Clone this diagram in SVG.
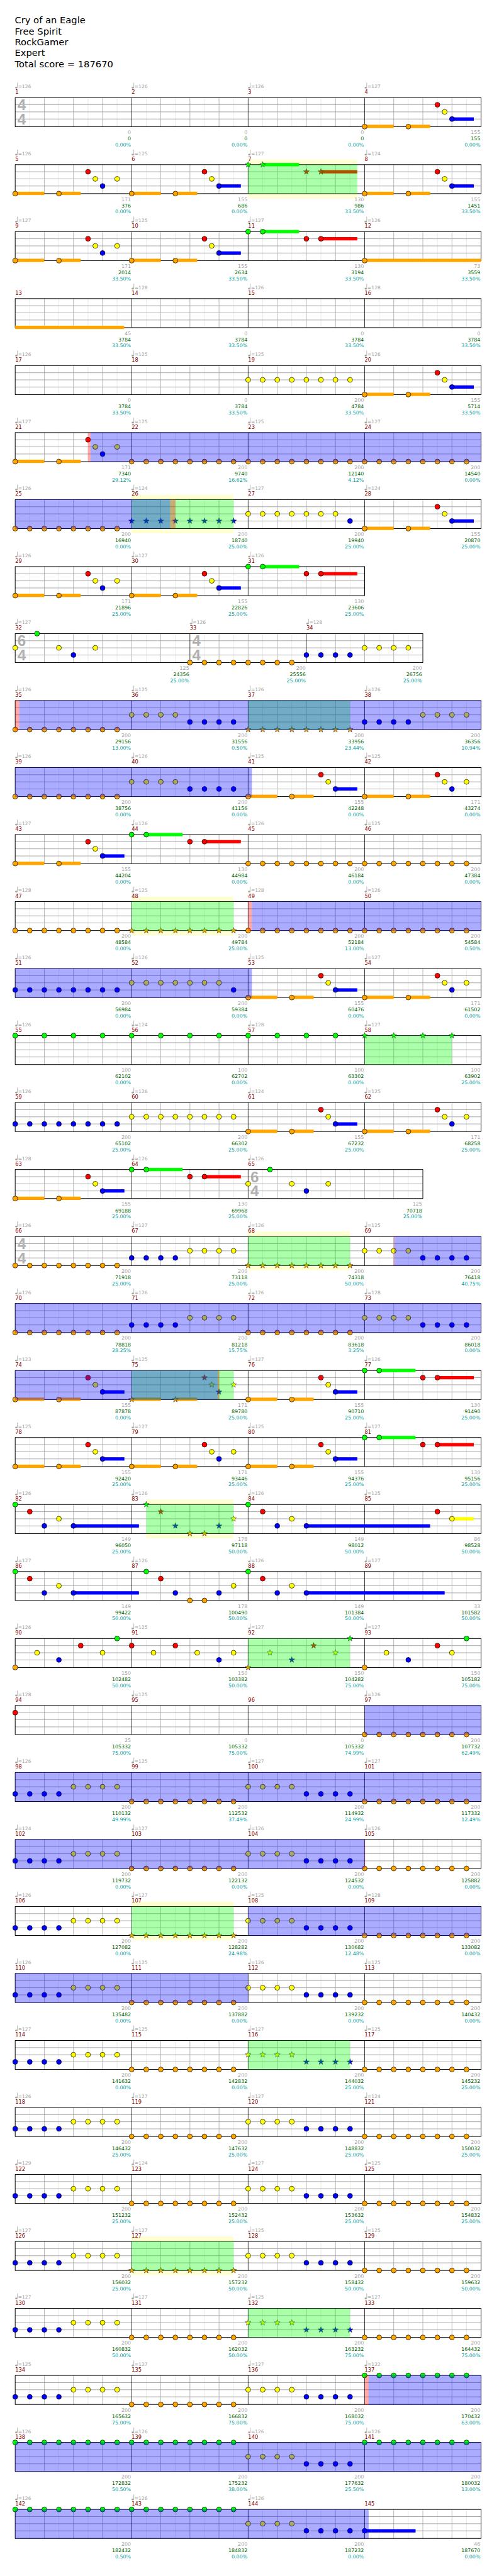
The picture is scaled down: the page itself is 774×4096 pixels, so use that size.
<svg xmlns="http://www.w3.org/2000/svg" width="774" height="4096" viewBox="0 0 774 4096">
<style>
text{font-family:"DejaVu Sans",Verdana,sans-serif;font-size:10.5px}
.ti{font-size:19.5px;fill:#000}
.tp{fill:#a3a3a3;font-size:10px}
.mn{fill:#8b0000;font-size:11px}
.s1{fill:#a3a3a3;text-anchor:end}
.s2{fill:#006400;text-anchor:end}
.s3{fill:#009c9c;text-anchor:end}
.ts{font-family:"Liberation Sans",Arial,sans-serif;font-weight:bold;font-size:32px;fill:#b0b0b0;text-anchor:middle}
circle{stroke:#000;stroke-width:.9}
.o{fill:#ffa500}.r{fill:#f00}.y{fill:#ff0}.b{fill:#00f}.g{fill:#0f0}
.hb{stroke:#e3e3e3;stroke-width:1;fill:none}
.bt{stroke:#a0a0a0;stroke-width:1;fill:none}
.ln{stroke:#a0a0a0;stroke-width:1.2;fill:none}
.ml{stroke:#000;stroke-width:1;fill:none}
.bd{fill:none;stroke:#000;stroke-width:1.3}
.gz{fill:#0f0;fill-opacity:.33}
.bz{fill:#00f;fill-opacity:.33}
.pz{fill:#f00;fill-opacity:.33}
.yz{fill:#ffffd2}
</style>
<defs>
<polygon id="sr" points="0,-6.5 1.53,-2.1 6.18,-2.01 2.47,0.8 3.82,5.26 0,2.6 -3.82,5.26 -2.47,0.8 -6.18,-2.01 -1.53,-2.1" stroke="#000" stroke-width=".6"/>
<g id="tq"><ellipse cx="2.3" cy="-21" rx="2.4" ry="1.9" fill="#a3a3a3"/><path d="M4.5 -21V-31.5" stroke="#a3a3a3" stroke-width="1"/></g>
<g id="st4"><rect x="32" y="0" width="980" height="61" fill="#fff"/><path class="hb" d="M62.63 0V61M123.88 0V61M185.13 0V61M246.38 0V61M307.63 0V61M368.88 0V61M430.13 0V61M491.38 0V61M552.63 0V61M613.88 0V61M675.13 0V61M736.38 0V61M797.63 0V61M858.88 0V61M920.13 0V61M981.38 0V61"/><path class="bt" d="M93.25 0V61M154.5 0V61M215.75 0V61M338.25 0V61M399.5 0V61M460.75 0V61M583.25 0V61M644.5 0V61M705.75 0V61M828.25 0V61M889.5 0V61M950.75 0V61"/><path class="ln" d="M32 15H1012M32 30H1012M32 45H1012"/><path class="ml" d="M277 0V61M522 0V61M767 0V61"/><rect class="bd" x="32" y="0" width="980" height="61"/></g>
<g id="st3"><rect x="32" y="0" width="735" height="61" fill="#fff"/><path class="hb" d="M62.63 0V61M123.88 0V61M185.13 0V61M246.38 0V61M307.63 0V61M368.88 0V61M430.13 0V61M491.38 0V61M552.63 0V61M613.88 0V61M675.13 0V61M736.38 0V61"/><path class="bt" d="M93.25 0V61M154.5 0V61M215.75 0V61M338.25 0V61M399.5 0V61M460.75 0V61M583.25 0V61M644.5 0V61M705.75 0V61"/><path class="ln" d="M32 15H767M32 30H767M32 45H767"/><path class="ml" d="M277 0V61M522 0V61"/><rect class="bd" x="32" y="0" width="735" height="61"/></g>
<g id="st8"><rect x="32" y="0" width="857.5" height="61" fill="#fff"/><path class="hb" d="M62.63 0V61M123.88 0V61M185.13 0V61M246.38 0V61M307.63 0V61M368.88 0V61M430.13 0V61M491.38 0V61M552.63 0V61M613.88 0V61M675.13 0V61M736.38 0V61M797.63 0V61M858.88 0V61"/><path class="bt" d="M93.25 0V61M154.5 0V61M215.75 0V61M277 0V61M338.25 0V61M460.75 0V61M522 0V61M583.25 0V61M705.75 0V61M767 0V61M828.25 0V61"/><path class="ln" d="M32 15H889.5M32 30H889.5M32 45H889.5"/><path class="ml" d="M399.5 0V61M644.5 0V61"/><rect class="bd" x="32" y="0" width="857.5" height="61"/></g>
<g id="st16"><rect x="32" y="0" width="857.5" height="61" fill="#fff"/><path class="hb" d="M62.63 0V61M123.88 0V61M185.13 0V61M246.38 0V61M307.63 0V61M368.88 0V61M430.13 0V61M491.38 0V61M552.63 0V61M613.88 0V61M675.13 0V61M736.38 0V61M797.63 0V61M858.88 0V61"/><path class="bt" d="M93.25 0V61M154.5 0V61M215.75 0V61M338.25 0V61M399.5 0V61M460.75 0V61M583.25 0V61M644.5 0V61M705.75 0V61M767 0V61M828.25 0V61"/><path class="ln" d="M32 15H889.5M32 30H889.5M32 45H889.5"/><path class="ml" d="M277 0V61M522 0V61"/><rect class="bd" x="32" y="0" width="857.5" height="61"/></g>
<g id="P1"><rect class="o" x="0" y="57" width="61.25" height="7"/><rect class="o" x="91.88" y="57" width="45.94" height="7"/><circle class="o" cx="0" cy="61" r="5.2"/><circle class="o" cx="91.88" cy="61" r="5.2"/><circle class="r" cx="153.13" cy="15" r="5.2"/><circle class="y" cx="168.44" cy="30" r="5.2"/><circle class="b" cx="183.75" cy="45" r="5.2"/><circle class="y" cx="214.38" cy="30" r="5.2"/></g>
<g id="P2"><rect class="o" x="0" y="57" width="61.25" height="7"/><rect class="o" x="91.88" y="57" width="45.94" height="7"/><rect class="b" x="183.75" y="41.5" width="45.94" height="7"/><circle class="o" cx="0" cy="61" r="5.2"/><circle class="o" cx="91.88" cy="61" r="5.2"/><circle class="r" cx="153.13" cy="15" r="5.2"/><circle class="y" cx="168.44" cy="30" r="5.2"/><circle class="b" cx="183.75" cy="45" r="5.2"/></g>
<g id="P3"><rect class="g" x="30.63" y="-3.5" width="76.56" height="7"/><rect class="r" x="153.13" y="11.5" width="76.56" height="7"/><circle class="g" cx="0" cy="0" r="5.2"/><circle class="g" cx="30.63" cy="0" r="5.2"/><circle class="r" cx="122.5" cy="15" r="5.2"/><circle class="r" cx="153.13" cy="15" r="5.2"/></g>
<g id="P3S"><rect class="g" x="30.63" y="-3.5" width="76.56" height="7"/><rect class="r" x="153.13" y="11.5" width="76.56" height="7"/><use href="#sr" class="g" x="0" y="0"/><use href="#sr" class="g" x="30.63" y="0"/><use href="#sr" class="r" x="122.5" y="15"/><use href="#sr" class="r" x="153.13" y="15"/></g>
<g id="P1S"><rect class="o" x="0" y="57" width="61.25" height="7"/><rect class="o" x="91.88" y="57" width="45.94" height="7"/><use href="#sr" class="o" x="0" y="61"/><use href="#sr" class="o" x="91.88" y="61"/><use href="#sr" class="r" x="153.13" y="15"/><use href="#sr" class="y" x="168.44" y="30"/><use href="#sr" class="b" x="183.75" y="45"/><use href="#sr" class="y" x="214.38" y="30"/></g>
<g id="O8"><circle class="o" cx="0" cy="61" r="5.2"/><circle class="o" cx="30.63" cy="61" r="5.2"/><circle class="o" cx="61.25" cy="61" r="5.2"/><circle class="o" cx="91.88" cy="61" r="5.2"/><circle class="o" cx="122.5" cy="61" r="5.2"/><circle class="o" cx="153.13" cy="61" r="5.2"/><circle class="o" cx="183.75" cy="61" r="5.2"/><circle class="o" cx="214.38" cy="61" r="5.2"/></g>
<g id="Y8"><circle class="y" cx="0" cy="30" r="5.2"/><circle class="y" cx="30.63" cy="30" r="5.2"/><circle class="y" cx="61.25" cy="30" r="5.2"/><circle class="y" cx="91.88" cy="30" r="5.2"/><circle class="y" cx="122.5" cy="30" r="5.2"/><circle class="y" cx="153.13" cy="30" r="5.2"/><circle class="y" cx="183.75" cy="30" r="5.2"/><circle class="y" cx="214.38" cy="30" r="5.2"/></g>
<g id="B8"><circle class="b" cx="0" cy="45" r="5.2"/><circle class="b" cx="30.63" cy="45" r="5.2"/><circle class="b" cx="61.25" cy="45" r="5.2"/><circle class="b" cx="91.88" cy="45" r="5.2"/><circle class="b" cx="122.5" cy="45" r="5.2"/><circle class="b" cx="153.13" cy="45" r="5.2"/><circle class="b" cx="183.75" cy="45" r="5.2"/><circle class="b" cx="214.38" cy="45" r="5.2"/></g>
<g id="G8"><circle class="g" cx="0" cy="0" r="5.2"/><circle class="g" cx="30.63" cy="0" r="5.2"/><circle class="g" cx="61.25" cy="0" r="5.2"/><circle class="g" cx="91.88" cy="0" r="5.2"/><circle class="g" cx="122.5" cy="0" r="5.2"/><circle class="g" cx="153.13" cy="0" r="5.2"/><circle class="g" cx="183.75" cy="0" r="5.2"/><circle class="g" cx="214.38" cy="0" r="5.2"/></g>
<g id="BY"><circle class="b" cx="0" cy="45" r="5.2"/><circle class="b" cx="30.63" cy="45" r="5.2"/><circle class="b" cx="61.25" cy="45" r="5.2"/><circle class="b" cx="91.88" cy="45" r="5.2"/><circle class="y" cx="122.5" cy="30" r="5.2"/><circle class="y" cx="153.13" cy="30" r="5.2"/><circle class="y" cx="183.75" cy="30" r="5.2"/><circle class="y" cx="214.38" cy="30" r="5.2"/></g>
<g id="YB"><circle class="y" cx="0" cy="30" r="5.2"/><circle class="y" cx="30.63" cy="30" r="5.2"/><circle class="y" cx="61.25" cy="30" r="5.2"/><circle class="y" cx="91.88" cy="30" r="5.2"/><circle class="b" cx="122.5" cy="45" r="5.2"/><circle class="b" cx="153.13" cy="45" r="5.2"/><circle class="b" cx="183.75" cy="45" r="5.2"/><circle class="b" cx="214.38" cy="45" r="5.2"/></g>
<g id="Y7B"><circle class="y" cx="0" cy="30" r="5.2"/><circle class="y" cx="30.63" cy="30" r="5.2"/><circle class="y" cx="61.25" cy="30" r="5.2"/><circle class="y" cx="91.88" cy="30" r="5.2"/><circle class="y" cx="122.5" cy="30" r="5.2"/><circle class="y" cx="153.13" cy="30" r="5.2"/><circle class="y" cx="183.75" cy="30" r="5.2"/><circle class="b" cx="214.38" cy="45" r="5.2"/></g>
<g id="G4"><circle class="g" cx="0" cy="0" r="5.2"/><circle class="g" cx="61.25" cy="0" r="5.2"/><circle class="g" cx="122.5" cy="0" r="5.2"/><circle class="g" cx="183.75" cy="0" r="5.2"/></g>
<g id="G4S"><use href="#sr" class="g" x="0" y="0"/><use href="#sr" class="g" x="61.25" y="0"/><use href="#sr" class="g" x="122.5" y="0"/><use href="#sr" class="g" x="183.75" y="0"/></g>
<g id="O8S"><use href="#sr" class="o" x="0" y="61"/><use href="#sr" class="o" x="30.63" y="61"/><use href="#sr" class="o" x="61.25" y="61"/><use href="#sr" class="o" x="91.88" y="61"/><use href="#sr" class="o" x="122.5" y="61"/><use href="#sr" class="o" x="153.13" y="61"/><use href="#sr" class="o" x="183.75" y="61"/><use href="#sr" class="o" x="214.38" y="61"/></g>
<g id="B8S"><use href="#sr" class="b" x="0" y="45"/><use href="#sr" class="b" x="30.63" y="45"/><use href="#sr" class="b" x="61.25" y="45"/><use href="#sr" class="b" x="91.88" y="45"/><use href="#sr" class="b" x="122.5" y="45"/><use href="#sr" class="b" x="153.13" y="45"/><use href="#sr" class="b" x="183.75" y="45"/><use href="#sr" class="b" x="214.38" y="45"/></g>
<g id="YBS"><use href="#sr" class="y" x="0" y="30"/><use href="#sr" class="y" x="30.63" y="30"/><use href="#sr" class="y" x="61.25" y="30"/><use href="#sr" class="y" x="91.88" y="30"/><use href="#sr" class="b" x="122.5" y="45"/><use href="#sr" class="b" x="153.13" y="45"/><use href="#sr" class="b" x="183.75" y="45"/><use href="#sr" class="b" x="214.38" y="45"/></g>
</defs>
<rect width="774" height="4096" fill="#fff"/>
<g transform="scale(0.7555)">
<g id="header"><text class="ti" x="31" y="49.3">Cry of an Eagle</text><text class="ti" x="31" y="72.3">Free Spirit</text><text class="ti" x="31" y="95">RockGamer</text><text class="ti" x="31" y="118">Expert</text><text class="ti" x="31" y="141.3">Total score = 187670</text></g>

<g id="row0" transform="translate(0 205.5)"><use href="#st4"/><text class="ts" x="45.7" y="26.5">4</text><text class="ts" x="45.7" y="56.5">4</text><use href="#P2" x="767"/>
<g id="m1"><use href="#tq" x="32"/><text class="tp" x="38" y="-20">=126</text><text class="mn" x="32" y="-8">1</text><text class="s1" x="275.5" y="76.5">0</text><text class="s2" x="275.5" y="89.8">0</text><text class="s3" x="275.5" y="102.8">0.00%</text></g>
<g id="m2"><use href="#tq" x="277"/><text class="tp" x="283" y="-20">=126</text><text class="mn" x="277" y="-8">2</text><text class="s1" x="520.5" y="76.5">0</text><text class="s2" x="520.5" y="89.8">0</text><text class="s3" x="520.5" y="102.8">0.00%</text></g>
<g id="m3"><use href="#tq" x="522"/><text class="tp" x="528" y="-20">=126</text><text class="mn" x="522" y="-8">3</text><text class="s1" x="765.5" y="76.5">0</text><text class="s2" x="765.5" y="89.8">0</text><text class="s3" x="765.5" y="102.8">0.00%</text></g>
<g id="m4"><use href="#tq" x="767"/><text class="tp" x="773" y="-20">=127</text><text class="mn" x="767" y="-8">4</text><text class="s1" x="1010.5" y="76.5">155</text><text class="s2" x="1010.5" y="89.8">155</text><text class="s3" x="1010.5" y="102.8">0.00%</text></g>
</g>

<g id="row1" transform="translate(0 346.5)"><rect class="yz" x="522" y="-10.5" width="229.7" height="81.7"/><use href="#st4"/><use href="#P1" x="32"/><use href="#P2" x="277"/><use href="#P3S" x="522"/><use href="#P2" x="767"/><rect class="gz" x="522" y="0" width="229.7" height="61"/>
<g id="m5"><use href="#tq" x="32"/><text class="tp" x="38" y="-20">=126</text><text class="mn" x="32" y="-8">5</text><text class="s1" x="275.5" y="76.5">171</text><text class="s2" x="275.5" y="89.8">376</text><text class="s3" x="275.5" y="102.8">0.00%</text></g>
<g id="m6"><use href="#tq" x="277"/><text class="tp" x="283" y="-20">=125</text><text class="mn" x="277" y="-8">6</text><text class="s1" x="520.5" y="76.5">155</text><text class="s2" x="520.5" y="89.8">686</text><text class="s3" x="520.5" y="102.8">0.00%</text></g>
<g id="m7"><use href="#tq" x="522"/><text class="tp" x="528" y="-20">=127</text><text class="mn" x="522" y="-8">7</text><text class="s1" x="765.5" y="76.5">130</text><text class="s2" x="765.5" y="89.8">986</text><text class="s3" x="765.5" y="102.8">33.50%</text></g>
<g id="m8"><use href="#tq" x="767"/><text class="tp" x="773" y="-20">=124</text><text class="mn" x="767" y="-8">8</text><text class="s1" x="1010.5" y="76.5">155</text><text class="s2" x="1010.5" y="89.8">1451</text><text class="s3" x="1010.5" y="102.8">33.50%</text></g>
</g>

<g id="row2" transform="translate(0 487.5)"><use href="#st4"/><use href="#P1" x="32"/><use href="#P2" x="277"/><use href="#P3" x="522"/><rect class="o" x="767" y="57" width="245" height="7"/><circle class="o" cx="767" cy="61" r="5.2"/>
<g id="m9"><use href="#tq" x="32"/><text class="tp" x="38" y="-20">=127</text><text class="mn" x="32" y="-8">9</text><text class="s1" x="275.5" y="76.5">171</text><text class="s2" x="275.5" y="89.8">2014</text><text class="s3" x="275.5" y="102.8">33.50%</text></g>
<g id="m10"><use href="#tq" x="277"/><text class="tp" x="283" y="-20">=125</text><text class="mn" x="277" y="-8">10</text><text class="s1" x="520.5" y="76.5">155</text><text class="s2" x="520.5" y="89.8">2634</text><text class="s3" x="520.5" y="102.8">33.50%</text></g>
<g id="m11"><use href="#tq" x="522"/><text class="tp" x="528" y="-20">=127</text><text class="mn" x="522" y="-8">11</text><text class="s1" x="765.5" y="76.5">130</text><text class="s2" x="765.5" y="89.8">3194</text><text class="s3" x="765.5" y="102.8">33.50%</text></g>
<g id="m12"><use href="#tq" x="767"/><text class="tp" x="773" y="-20">=126</text><text class="mn" x="767" y="-8">12</text><text class="s1" x="1010.5" y="76.5">73</text><text class="s2" x="1010.5" y="89.8">3559</text><text class="s3" x="1010.5" y="102.8">33.50%</text></g>
</g>

<g id="row3" transform="translate(0 628.5)"><use href="#st4"/><rect class="o" x="32" y="57" width="229.3" height="7"/>
<g id="m13"><text class="mn" x="32" y="-8">13</text><text class="s1" x="275.5" y="76.5">45</text><text class="s2" x="275.5" y="89.8">3784</text><text class="s3" x="275.5" y="102.8">33.50%</text></g>
<g id="m14"><use href="#tq" x="277"/><text class="tp" x="283" y="-20">=128</text><text class="mn" x="277" y="-8">14</text><text class="s1" x="520.5" y="76.5">0</text><text class="s2" x="520.5" y="89.8">3784</text><text class="s3" x="520.5" y="102.8">33.50%</text></g>
<g id="m15"><use href="#tq" x="522"/><text class="tp" x="528" y="-20">=126</text><text class="mn" x="522" y="-8">15</text><text class="s1" x="765.5" y="76.5">0</text><text class="s2" x="765.5" y="89.8">3784</text><text class="s3" x="765.5" y="102.8">33.50%</text></g>
<g id="m16"><use href="#tq" x="767"/><text class="tp" x="773" y="-20">=128</text><text class="mn" x="767" y="-8">16</text><text class="s1" x="1010.5" y="76.5">0</text><text class="s2" x="1010.5" y="89.8">3784</text><text class="s3" x="1010.5" y="102.8">33.50%</text></g>
</g>

<g id="row4" transform="translate(0 769.5)"><use href="#st4"/><use href="#Y8" x="522"/><use href="#P2" x="767"/>
<g id="m17"><use href="#tq" x="32"/><text class="tp" x="38" y="-20">=126</text><text class="mn" x="32" y="-8">17</text><text class="s1" x="275.5" y="76.5">0</text><text class="s2" x="275.5" y="89.8">3784</text><text class="s3" x="275.5" y="102.8">33.50%</text></g>
<g id="m18"><use href="#tq" x="277"/><text class="tp" x="283" y="-20">=125</text><text class="mn" x="277" y="-8">18</text><text class="s1" x="520.5" y="76.5">0</text><text class="s2" x="520.5" y="89.8">3784</text><text class="s3" x="520.5" y="102.8">33.50%</text></g>
<g id="m19"><use href="#tq" x="522"/><text class="tp" x="528" y="-20">=125</text><text class="mn" x="522" y="-8">19</text><text class="s1" x="765.5" y="76.5">200</text><text class="s2" x="765.5" y="89.8">4784</text><text class="s3" x="765.5" y="102.8">33.50%</text></g>
<g id="m20"><use href="#tq" x="767"/><text class="tp" x="773" y="-20">=126</text><text class="mn" x="767" y="-8">20</text><text class="s1" x="1010.5" y="76.5">155</text><text class="s2" x="1010.5" y="89.8">5714</text><text class="s3" x="1010.5" y="102.8">33.50%</text></g>
</g>

<g id="row5" transform="translate(0 910.5)"><use href="#st4"/><use href="#P1" x="32"/><use href="#O8" x="277"/><use href="#O8" x="522"/><use href="#O8" x="767"/><rect class="pz" x="185" y="-0.6" width="5.5" height="62.2"/><rect class="bz" x="190.5" y="-0.6" width="821.5" height="62.2"/>
<g id="m21"><use href="#tq" x="32"/><text class="tp" x="38" y="-20">=127</text><text class="mn" x="32" y="-8">21</text><text class="s1" x="275.5" y="76.5">171</text><text class="s2" x="275.5" y="89.8">7340</text><text class="s3" x="275.5" y="102.8">29.12%</text></g>
<g id="m22"><use href="#tq" x="277"/><text class="tp" x="283" y="-20">=125</text><text class="mn" x="277" y="-8">22</text><text class="s1" x="520.5" y="76.5">200</text><text class="s2" x="520.5" y="89.8">9740</text><text class="s3" x="520.5" y="102.8">16.62%</text></g>
<g id="m23"><use href="#tq" x="522"/><text class="tp" x="528" y="-20">=125</text><text class="mn" x="522" y="-8">23</text><text class="s1" x="765.5" y="76.5">200</text><text class="s2" x="765.5" y="89.8">12140</text><text class="s3" x="765.5" y="102.8">4.12%</text></g>
<g id="m24"><use href="#tq" x="767"/><text class="tp" x="773" y="-20">=127</text><text class="mn" x="767" y="-8">24</text><text class="s1" x="1010.5" y="76.5">200</text><text class="s2" x="1010.5" y="89.8">14540</text><text class="s3" x="1010.5" y="102.8">0.00%</text></g>
</g>

<g id="row6" transform="translate(0 1051.5)"><rect class="yz" x="277" y="-10.5" width="214.4" height="81.7"/><use href="#st4"/><use href="#O8" x="32"/><use href="#B8S" x="277"/><use href="#Y7B" x="522"/><use href="#P2" x="767"/><rect class="gz" x="277" y="0" width="214.4" height="61"/><rect class="bz" x="32" y="-0.6" width="326" height="62.2"/><rect class="pz" x="358" y="0" width="11" height="61"/>
<g id="m25"><use href="#tq" x="32"/><text class="tp" x="38" y="-20">=126</text><text class="mn" x="32" y="-8">25</text><text class="s1" x="275.5" y="76.5">200</text><text class="s2" x="275.5" y="89.8">16940</text><text class="s3" x="275.5" y="102.8">0.00%</text></g>
<g id="m26"><use href="#tq" x="277"/><text class="tp" x="283" y="-20">=124</text><text class="mn" x="277" y="-8">26</text><text class="s1" x="520.5" y="76.5">200</text><text class="s2" x="520.5" y="89.8">18740</text><text class="s3" x="520.5" y="102.8">25.00%</text></g>
<g id="m27"><use href="#tq" x="522"/><text class="tp" x="528" y="-20">=127</text><text class="mn" x="522" y="-8">27</text><text class="s1" x="765.5" y="76.5">200</text><text class="s2" x="765.5" y="89.8">19940</text><text class="s3" x="765.5" y="102.8">25.00%</text></g>
<g id="m28"><use href="#tq" x="767"/><text class="tp" x="773" y="-20">=124</text><text class="mn" x="767" y="-8">28</text><text class="s1" x="1010.5" y="76.5">155</text><text class="s2" x="1010.5" y="89.8">20870</text><text class="s3" x="1010.5" y="102.8">25.00%</text></g>
</g>

<g id="row7" transform="translate(0 1192.5)"><use href="#st3"/><use href="#P1" x="32"/><use href="#P2" x="277"/><use href="#P3" x="522"/>
<g id="m29"><use href="#tq" x="32"/><text class="tp" x="38" y="-20">=126</text><text class="mn" x="32" y="-8">29</text><text class="s1" x="275.5" y="76.5">171</text><text class="s2" x="275.5" y="89.8">21896</text><text class="s3" x="275.5" y="102.8">25.00%</text></g>
<g id="m30"><use href="#tq" x="277"/><text class="tp" x="283" y="-20">=127</text><text class="mn" x="277" y="-8">30</text><text class="s1" x="520.5" y="76.5">155</text><text class="s2" x="520.5" y="89.8">22826</text><text class="s3" x="520.5" y="102.8">25.00%</text></g>
<g id="m31"><use href="#tq" x="522"/><text class="tp" x="528" y="-20">=126</text><text class="mn" x="522" y="-8">31</text><text class="s1" x="765.5" y="76.5">130</text><text class="s2" x="765.5" y="89.8">23606</text><text class="s3" x="765.5" y="102.8">25.00%</text></g>
</g>

<g id="row8" transform="translate(0 1333.5)"><use href="#st8"/><text class="ts" x="45.7" y="26.5">6</text><text class="ts" x="45.7" y="56.5">4</text><text class="ts" x="413.2" y="26.5">4</text><text class="ts" x="413.2" y="56.5">4</text>
<circle class="y" cx="32" cy="30" r="5.2"/><circle class="g" cx="77.94" cy="0" r="5.2"/><circle class="y" cx="123.88" cy="30" r="5.2"/><circle class="b" cx="154.5" cy="45" r="5.2"/><circle class="y" cx="200.44" cy="30" r="5.2"/><use href="#O8" x="399.5"/><use href="#BY" x="644.5"/>
<g id="m32"><use href="#tq" x="32"/><text class="tp" x="38" y="-20">=127</text><text class="mn" x="32" y="-8">32</text><text class="s1" x="398" y="76.5">125</text><text class="s2" x="398" y="89.8">24356</text><text class="s3" x="398" y="102.8">25.00%</text></g>
<g id="m33"><use href="#tq" x="399.5"/><text class="tp" x="405.5" y="-20">=126</text><text class="mn" x="399.5" y="-8">33</text><text class="s1" x="643" y="76.5">200</text><text class="s2" x="643" y="89.8">25556</text><text class="s3" x="643" y="102.8">25.00%</text></g>
<g id="m34"><use href="#tq" x="644.5"/><text class="tp" x="650.5" y="-20">=128</text><text class="mn" x="644.5" y="-8">34</text><text class="s1" x="888" y="76.5">200</text><text class="s2" x="888" y="89.8">26756</text><text class="s3" x="888" y="102.8">25.00%</text></g>
</g>

<g id="row9" transform="translate(0 1474.5)"><use href="#st4"/><use href="#O8" x="32"/><use href="#YB" x="277"/><use href="#O8S" x="522"/><use href="#BY" x="767"/><rect class="gz" x="522" y="0" width="214.4" height="61"/><rect class="pz" x="32" y="-0.6" width="8.7" height="62.2"/><rect class="bz" x="40.7" y="-0.6" width="971.3" height="62.2"/>
<g id="m35"><use href="#tq" x="32"/><text class="tp" x="38" y="-20">=126</text><text class="mn" x="32" y="-8">35</text><text class="s1" x="275.5" y="76.5">200</text><text class="s2" x="275.5" y="89.8">29156</text><text class="s3" x="275.5" y="102.8">13.00%</text></g>
<g id="m36"><use href="#tq" x="277"/><text class="tp" x="283" y="-20">=125</text><text class="mn" x="277" y="-8">36</text><text class="s1" x="520.5" y="76.5">200</text><text class="s2" x="520.5" y="89.8">31556</text><text class="s3" x="520.5" y="102.8">0.50%</text></g>
<g id="m37"><use href="#tq" x="522"/><text class="tp" x="528" y="-20">=126</text><text class="mn" x="522" y="-8">37</text><text class="s1" x="765.5" y="76.5">200</text><text class="s2" x="765.5" y="89.8">33956</text><text class="s3" x="765.5" y="102.8">23.44%</text></g>
<g id="m38"><use href="#tq" x="767"/><text class="tp" x="773" y="-20">=126</text><text class="mn" x="767" y="-8">38</text><text class="s1" x="1010.5" y="76.5">200</text><text class="s2" x="1010.5" y="89.8">36356</text><text class="s3" x="1010.5" y="102.8">10.94%</text></g>
</g>

<g id="row10" transform="translate(0 1615.5)"><use href="#st4"/><use href="#O8" x="32"/><use href="#YB" x="277"/><use href="#P2" x="522"/><use href="#P1" x="767"/><rect class="bz" x="32" y="-0.6" width="498" height="62.2"/>
<g id="m39"><use href="#tq" x="32"/><text class="tp" x="38" y="-20">=126</text><text class="mn" x="32" y="-8">39</text><text class="s1" x="275.5" y="76.5">200</text><text class="s2" x="275.5" y="89.8">38756</text><text class="s3" x="275.5" y="102.8">0.00%</text></g>
<g id="m40"><use href="#tq" x="277"/><text class="tp" x="283" y="-20">=126</text><text class="mn" x="277" y="-8">40</text><text class="s1" x="520.5" y="76.5">200</text><text class="s2" x="520.5" y="89.8">41156</text><text class="s3" x="520.5" y="102.8">0.00%</text></g>
<g id="m41"><use href="#tq" x="522"/><text class="tp" x="528" y="-20">=125</text><text class="mn" x="522" y="-8">41</text><text class="s1" x="765.5" y="76.5">155</text><text class="s2" x="765.5" y="89.8">42248</text><text class="s3" x="765.5" y="102.8">0.00%</text></g>
<g id="m42"><use href="#tq" x="767"/><text class="tp" x="773" y="-20">=125</text><text class="mn" x="767" y="-8">42</text><text class="s1" x="1010.5" y="76.5">171</text><text class="s2" x="1010.5" y="89.8">43274</text><text class="s3" x="1010.5" y="102.8">0.00%</text></g>
</g>

<g id="row11" transform="translate(0 1756.5)"><use href="#st4"/><use href="#P2" x="32"/><use href="#P3" x="277"/><use href="#O8" x="522"/><use href="#O8" x="767"/>
<g id="m43"><use href="#tq" x="32"/><text class="tp" x="38" y="-20">=127</text><text class="mn" x="32" y="-8">43</text><text class="s1" x="275.5" y="76.5">155</text><text class="s2" x="275.5" y="89.8">44204</text><text class="s3" x="275.5" y="102.8">0.00%</text></g>
<g id="m44"><use href="#tq" x="277"/><text class="tp" x="283" y="-20">=126</text><text class="mn" x="277" y="-8">44</text><text class="s1" x="520.5" y="76.5">130</text><text class="s2" x="520.5" y="89.8">44984</text><text class="s3" x="520.5" y="102.8">0.00%</text></g>
<g id="m45"><use href="#tq" x="522"/><text class="tp" x="528" y="-20">=126</text><text class="mn" x="522" y="-8">45</text><text class="s1" x="765.5" y="76.5">200</text><text class="s2" x="765.5" y="89.8">46184</text><text class="s3" x="765.5" y="102.8">0.00%</text></g>
<g id="m46"><use href="#tq" x="767"/><text class="tp" x="773" y="-20">=125</text><text class="mn" x="767" y="-8">46</text><text class="s1" x="1010.5" y="76.5">200</text><text class="s2" x="1010.5" y="89.8">47384</text><text class="s3" x="1010.5" y="102.8">0.00%</text></g>
</g>

<g id="row12" transform="translate(0 1897.5)"><rect class="yz" x="277" y="-10.5" width="214.4" height="81.7"/><use href="#st4"/><use href="#O8" x="32"/><use href="#O8S" x="277"/><use href="#O8" x="522"/><use href="#O8" x="767"/><rect class="gz" x="277" y="0" width="214.4" height="61"/><rect class="pz" x="522" y="-0.6" width="8" height="62.2"/><rect class="bz" x="530" y="-0.6" width="482" height="62.2"/>
<g id="m47"><use href="#tq" x="32"/><text class="tp" x="38" y="-20">=128</text><text class="mn" x="32" y="-8">47</text><text class="s1" x="275.5" y="76.5">200</text><text class="s2" x="275.5" y="89.8">48584</text><text class="s3" x="275.5" y="102.8">0.00%</text></g>
<g id="m48"><use href="#tq" x="277"/><text class="tp" x="283" y="-20">=125</text><text class="mn" x="277" y="-8">48</text><text class="s1" x="520.5" y="76.5">200</text><text class="s2" x="520.5" y="89.8">49784</text><text class="s3" x="520.5" y="102.8">25.00%</text></g>
<g id="m49"><use href="#tq" x="522"/><text class="tp" x="528" y="-20">=128</text><text class="mn" x="522" y="-8">49</text><text class="s1" x="765.5" y="76.5">200</text><text class="s2" x="765.5" y="89.8">52184</text><text class="s3" x="765.5" y="102.8">13.00%</text></g>
<g id="m50"><use href="#tq" x="767"/><text class="tp" x="773" y="-20">=126</text><text class="mn" x="767" y="-8">50</text><text class="s1" x="1010.5" y="76.5">200</text><text class="s2" x="1010.5" y="89.8">54584</text><text class="s3" x="1010.5" y="102.8">0.50%</text></g>
</g>

<g id="row13" transform="translate(0 2038.5)"><use href="#st4"/><use href="#B8" x="32"/><use href="#Y7B" x="277"/><use href="#P2" x="522"/><use href="#P1" x="767"/><rect class="bz" x="32" y="-0.6" width="498" height="62.2"/>
<g id="m51"><use href="#tq" x="32"/><text class="tp" x="38" y="-20">=126</text><text class="mn" x="32" y="-8">51</text><text class="s1" x="275.5" y="76.5">200</text><text class="s2" x="275.5" y="89.8">56984</text><text class="s3" x="275.5" y="102.8">0.00%</text></g>
<g id="m52"><use href="#tq" x="277"/><text class="tp" x="283" y="-20">=126</text><text class="mn" x="277" y="-8">52</text><text class="s1" x="520.5" y="76.5">200</text><text class="s2" x="520.5" y="89.8">59384</text><text class="s3" x="520.5" y="102.8">0.00%</text></g>
<g id="m53"><use href="#tq" x="522"/><text class="tp" x="528" y="-20">=125</text><text class="mn" x="522" y="-8">53</text><text class="s1" x="765.5" y="76.5">155</text><text class="s2" x="765.5" y="89.8">60476</text><text class="s3" x="765.5" y="102.8">0.00%</text></g>
<g id="m54"><use href="#tq" x="767"/><text class="tp" x="773" y="-20">=127</text><text class="mn" x="767" y="-8">54</text><text class="s1" x="1010.5" y="76.5">171</text><text class="s2" x="1010.5" y="89.8">61502</text><text class="s3" x="1010.5" y="102.8">0.00%</text></g>
</g>

<g id="row14" transform="translate(0 2179.5)"><use href="#st4"/><use href="#G4" x="32"/><use href="#G4" x="277"/><use href="#G4" x="522"/><use href="#G4S" x="767"/><rect class="gz" x="767" y="0" width="183.75" height="61"/>
<g id="m55"><use href="#tq" x="32"/><text class="tp" x="38" y="-20">=126</text><text class="mn" x="32" y="-8">55</text><text class="s1" x="275.5" y="76.5">100</text><text class="s2" x="275.5" y="89.8">62102</text><text class="s3" x="275.5" y="102.8">0.00%</text></g>
<g id="m56"><use href="#tq" x="277"/><text class="tp" x="283" y="-20">=124</text><text class="mn" x="277" y="-8">56</text><text class="s1" x="520.5" y="76.5">100</text><text class="s2" x="520.5" y="89.8">62702</text><text class="s3" x="520.5" y="102.8">0.00%</text></g>
<g id="m57"><use href="#tq" x="522"/><text class="tp" x="528" y="-20">=128</text><text class="mn" x="522" y="-8">57</text><text class="s1" x="765.5" y="76.5">100</text><text class="s2" x="765.5" y="89.8">63302</text><text class="s3" x="765.5" y="102.8">0.00%</text></g>
<g id="m58"><use href="#tq" x="767"/><text class="tp" x="773" y="-20">=127</text><text class="mn" x="767" y="-8">58</text><text class="s1" x="1010.5" y="76.5">100</text><text class="s2" x="1010.5" y="89.8">63902</text><text class="s3" x="1010.5" y="102.8">25.00%</text></g>
</g>

<g id="row15" transform="translate(0 2320.5)"><use href="#st4"/><use href="#B8" x="32"/><use href="#Y8" x="277"/><use href="#P2" x="522"/><use href="#P1" x="767"/>
<g id="m59"><use href="#tq" x="32"/><text class="tp" x="38" y="-20">=126</text><text class="mn" x="32" y="-8">59</text><text class="s1" x="275.5" y="76.5">200</text><text class="s2" x="275.5" y="89.8">65102</text><text class="s3" x="275.5" y="102.8">25.00%</text></g>
<g id="m60"><use href="#tq" x="277"/><text class="tp" x="283" y="-20">=126</text><text class="mn" x="277" y="-8">60</text><text class="s1" x="520.5" y="76.5">200</text><text class="s2" x="520.5" y="89.8">66302</text><text class="s3" x="520.5" y="102.8">25.00%</text></g>
<g id="m61"><use href="#tq" x="522"/><text class="tp" x="528" y="-20">=124</text><text class="mn" x="522" y="-8">61</text><text class="s1" x="765.5" y="76.5">155</text><text class="s2" x="765.5" y="89.8">67232</text><text class="s3" x="765.5" y="102.8">25.00%</text></g>
<g id="m62"><use href="#tq" x="767"/><text class="tp" x="773" y="-20">=125</text><text class="mn" x="767" y="-8">62</text><text class="s1" x="1010.5" y="76.5">171</text><text class="s2" x="1010.5" y="89.8">68258</text><text class="s3" x="1010.5" y="102.8">25.00%</text></g>
</g>

<g id="row16" transform="translate(0 2461.5)"><use href="#st16"/><text class="ts" x="535.7" y="26.5">6</text><text class="ts" x="535.7" y="56.5">4</text><use href="#P2" x="32"/><use href="#P3" x="277"/><circle class="y" cx="522" cy="30" r="5.2"/><circle class="g" cx="567.94" cy="0" r="5.2"/><circle class="y" cx="613.88" cy="30" r="5.2"/><circle class="b" cx="644.5" cy="45" r="5.2"/><circle class="y" cx="690.44" cy="30" r="5.2"/>
<g id="m63"><use href="#tq" x="32"/><text class="tp" x="38" y="-20">=128</text><text class="mn" x="32" y="-8">63</text><text class="s1" x="275.5" y="76.5">155</text><text class="s2" x="275.5" y="89.8">69188</text><text class="s3" x="275.5" y="102.8">25.00%</text></g>
<g id="m64"><use href="#tq" x="277"/><text class="tp" x="283" y="-20">=126</text><text class="mn" x="277" y="-8">64</text><text class="s1" x="520.5" y="76.5">130</text><text class="s2" x="520.5" y="89.8">69968</text><text class="s3" x="520.5" y="102.8">25.00%</text></g>
<g id="m65"><use href="#tq" x="522"/><text class="tp" x="528" y="-20">=126</text><text class="mn" x="522" y="-8">65</text><text class="s1" x="888" y="76.5">125</text><text class="s2" x="888" y="89.8">70718</text><text class="s3" x="888" y="102.8">25.00%</text></g>
</g>

<g id="row17" transform="translate(0 2602.5)"><rect class="yz" x="522" y="-10.5" width="214.4" height="81.7"/><use href="#st4"/><text class="ts" x="45.7" y="26.5">4</text><text class="ts" x="45.7" y="56.5">4</text><use href="#O8" x="32"/><use href="#BY" x="277"/><use href="#O8S" x="522"/><use href="#YB" x="767"/><rect class="gz" x="522" y="0" width="214.4" height="61"/><rect class="pz" x="828.3" y="-0.6" width="1.5" height="62.2"/><rect class="bz" x="829.8" y="-0.6" width="182.2" height="62.2"/>
<g id="m66"><use href="#tq" x="32"/><text class="tp" x="38" y="-20">=126</text><text class="mn" x="32" y="-8">66</text><text class="s1" x="275.5" y="76.5">200</text><text class="s2" x="275.5" y="89.8">71918</text><text class="s3" x="275.5" y="102.8">25.00%</text></g>
<g id="m67"><use href="#tq" x="277"/><text class="tp" x="283" y="-20">=127</text><text class="mn" x="277" y="-8">67</text><text class="s1" x="520.5" y="76.5">200</text><text class="s2" x="520.5" y="89.8">73118</text><text class="s3" x="520.5" y="102.8">25.00%</text></g>
<g id="m68"><use href="#tq" x="522"/><text class="tp" x="528" y="-20">=126</text><text class="mn" x="522" y="-8">68</text><text class="s1" x="765.5" y="76.5">200</text><text class="s2" x="765.5" y="89.8">74318</text><text class="s3" x="765.5" y="102.8">50.00%</text></g>
<g id="m69"><use href="#tq" x="767"/><text class="tp" x="773" y="-20">=125</text><text class="mn" x="767" y="-8">69</text><text class="s1" x="1010.5" y="76.5">200</text><text class="s2" x="1010.5" y="89.8">76418</text><text class="s3" x="1010.5" y="102.8">40.75%</text></g>
</g>

<g id="row18" transform="translate(0 2743.5)"><use href="#st4"/><use href="#O8" x="32"/><use href="#BY" x="277"/><use href="#O8" x="522"/><use href="#YB" x="767"/><rect class="bz" x="32" y="-0.6" width="980" height="62.2"/>
<g id="m70"><use href="#tq" x="32"/><text class="tp" x="38" y="-20">=126</text><text class="mn" x="32" y="-8">70</text><text class="s1" x="275.5" y="76.5">200</text><text class="s2" x="275.5" y="89.8">78818</text><text class="s3" x="275.5" y="102.8">28.25%</text></g>
<g id="m71"><use href="#tq" x="277"/><text class="tp" x="283" y="-20">=126</text><text class="mn" x="277" y="-8">71</text><text class="s1" x="520.5" y="76.5">200</text><text class="s2" x="520.5" y="89.8">81218</text><text class="s3" x="520.5" y="102.8">15.75%</text></g>
<g id="m72"><use href="#tq" x="522"/><text class="tp" x="528" y="-20">=126</text><text class="mn" x="522" y="-8">72</text><text class="s1" x="765.5" y="76.5">200</text><text class="s2" x="765.5" y="89.8">83618</text><text class="s3" x="765.5" y="102.8">3.25%</text></g>
<g id="m73"><use href="#tq" x="767"/><text class="tp" x="773" y="-20">=128</text><text class="mn" x="767" y="-8">73</text><text class="s1" x="1010.5" y="76.5">200</text><text class="s2" x="1010.5" y="89.8">86018</text><text class="s3" x="1010.5" y="102.8">0.00%</text></g>
</g>

<g id="row19" transform="translate(0 2884.5)"><use href="#st4"/><use href="#P2" x="32"/><use href="#P1S" x="277"/><use href="#P2" x="522"/><use href="#P3" x="767"/><rect class="gz" x="277" y="0" width="214.4" height="61"/><rect class="bz" x="32" y="-0.6" width="426" height="62.2"/><rect class="pz" x="458" y="0" width="3" height="61"/>
<g id="m74"><use href="#tq" x="32"/><text class="tp" x="38" y="-20">=123</text><text class="mn" x="32" y="-8">74</text><text class="s1" x="275.5" y="76.5">155</text><text class="s2" x="275.5" y="89.8">87878</text><text class="s3" x="275.5" y="102.8">0.00%</text></g>
<g id="m75"><use href="#tq" x="277"/><text class="tp" x="283" y="-20">=125</text><text class="mn" x="277" y="-8">75</text><text class="s1" x="520.5" y="76.5">171</text><text class="s2" x="520.5" y="89.8">89780</text><text class="s3" x="520.5" y="102.8">25.00%</text></g>
<g id="m76"><use href="#tq" x="522"/><text class="tp" x="528" y="-20">=127</text><text class="mn" x="522" y="-8">76</text><text class="s1" x="765.5" y="76.5">155</text><text class="s2" x="765.5" y="89.8">90710</text><text class="s3" x="765.5" y="102.8">25.00%</text></g>
<g id="m77"><use href="#tq" x="767"/><text class="tp" x="773" y="-20">=126</text><text class="mn" x="767" y="-8">77</text><text class="s1" x="1010.5" y="76.5">130</text><text class="s2" x="1010.5" y="89.8">91490</text><text class="s3" x="1010.5" y="102.8">25.00%</text></g>
</g>

<g id="row20" transform="translate(0 3025.5)"><use href="#st4"/><use href="#P2" x="32"/><use href="#P1" x="277"/><use href="#P2" x="522"/><use href="#P3" x="767"/>
<g id="m78"><use href="#tq" x="32"/><text class="tp" x="38" y="-20">=125</text><text class="mn" x="32" y="-8">78</text><text class="s1" x="275.5" y="76.5">155</text><text class="s2" x="275.5" y="89.8">92420</text><text class="s3" x="275.5" y="102.8">25.00%</text></g>
<g id="m79"><use href="#tq" x="277"/><text class="tp" x="283" y="-20">=127</text><text class="mn" x="277" y="-8">79</text><text class="s1" x="520.5" y="76.5">171</text><text class="s2" x="520.5" y="89.8">93446</text><text class="s3" x="520.5" y="102.8">25.00%</text></g>
<g id="m80"><use href="#tq" x="522"/><text class="tp" x="528" y="-20">=125</text><text class="mn" x="522" y="-8">80</text><text class="s1" x="765.5" y="76.5">155</text><text class="s2" x="765.5" y="89.8">94376</text><text class="s3" x="765.5" y="102.8">25.00%</text></g>
<g id="m81"><use href="#tq" x="767"/><text class="tp" x="773" y="-20">=127</text><text class="mn" x="767" y="-8">81</text><text class="s1" x="1010.5" y="76.5">130</text><text class="s2" x="1010.5" y="89.8">95156</text><text class="s3" x="1010.5" y="102.8">25.00%</text></g>
</g>

<g id="row21" transform="translate(0 3166.5)"><rect class="yz" x="307.6" y="-10.5" width="183.8" height="81.7"/><use href="#st4"/>
<rect class="b" x="154.5" y="41.5" width="137.8" height="7"/><circle class="g" cx="32" cy="0" r="5.2"/><circle class="r" cx="62.63" cy="15" r="5.2"/><circle class="b" cx="93.25" cy="45" r="5.2"/><circle class="y" cx="123.88" cy="30" r="5.2"/><circle class="b" cx="154.5" cy="45" r="5.2"/>
<use href="#sr" class="g" x="307.63" y="0"/><use href="#sr" class="r" x="338.25" y="15"/><use href="#sr" class="b" x="368.88" y="45"/><use href="#sr" class="o" x="399.5" y="61"/><use href="#sr" class="o" x="430.13" y="61"/><use href="#sr" class="b" x="460.75" y="45"/><use href="#sr" class="y" x="491.38" y="30"/>
<rect class="b" x="644.5" y="41.5" width="260.3" height="7"/><rect class="y" x="950.75" y="26.5" width="45.94" height="7"/><circle class="g" cx="522" cy="0" r="5.2"/><circle class="r" cx="552.63" cy="15" r="5.2"/><circle class="b" cx="583.25" cy="45" r="5.2"/><circle class="y" cx="613.88" cy="30" r="5.2"/><circle class="b" cx="644.5" cy="45" r="5.2"/><circle class="r" cx="920.13" cy="15" r="5.2"/><circle class="y" cx="950.75" cy="30" r="5.2"/>
<rect class="gz" x="307.6" y="0" width="183.8" height="61"/>
<g id="m82"><use href="#tq" x="32"/><text class="tp" x="38" y="-20">=126</text><text class="mn" x="32" y="-8">82</text><text class="s1" x="275.5" y="76.5">149</text><text class="s2" x="275.5" y="89.8">96050</text><text class="s3" x="275.5" y="102.8">25.00%</text></g>
<g id="m83"><use href="#tq" x="277"/><text class="tp" x="283" y="-20">=126</text><text class="mn" x="277" y="-8">83</text><text class="s1" x="520.5" y="76.5">178</text><text class="s2" x="520.5" y="89.8">97118</text><text class="s3" x="520.5" y="102.8">50.00%</text></g>
<g id="m84"><use href="#tq" x="522"/><text class="tp" x="528" y="-20">=126</text><text class="mn" x="522" y="-8">84</text><text class="s1" x="765.5" y="76.5">149</text><text class="s2" x="765.5" y="89.8">98012</text><text class="s3" x="765.5" y="102.8">50.00%</text></g>
<g id="m85"><use href="#tq" x="767"/><text class="tp" x="773" y="-20">=125</text><text class="mn" x="767" y="-8">85</text><text class="s1" x="1010.5" y="76.5">86</text><text class="s2" x="1010.5" y="89.8">98528</text><text class="s3" x="1010.5" y="102.8">50.00%</text></g>
</g>

<g id="row22" transform="translate(0 3307.5)"><use href="#st4"/>
<rect class="b" x="154.5" y="41.5" width="137.8" height="7"/><circle class="g" cx="32" cy="0" r="5.2"/><circle class="r" cx="62.63" cy="15" r="5.2"/><circle class="b" cx="93.25" cy="45" r="5.2"/><circle class="y" cx="123.88" cy="30" r="5.2"/><circle class="b" cx="154.5" cy="45" r="5.2"/>
<circle class="g" cx="307.63" cy="0" r="5.2"/><circle class="r" cx="338.25" cy="15" r="5.2"/><circle class="b" cx="368.88" cy="45" r="5.2"/><circle class="o" cx="399.5" cy="61" r="5.2"/><circle class="o" cx="430.13" cy="61" r="5.2"/><circle class="b" cx="460.75" cy="45" r="5.2"/><circle class="y" cx="491.38" cy="30" r="5.2"/>
<rect class="b" x="644.5" y="41.5" width="290.9" height="7"/><circle class="g" cx="522" cy="0" r="5.2"/><circle class="r" cx="552.63" cy="15" r="5.2"/><circle class="b" cx="583.25" cy="45" r="5.2"/><circle class="y" cx="613.88" cy="30" r="5.2"/><circle class="b" cx="644.5" cy="45" r="5.2"/>
<g id="m86"><use href="#tq" x="32"/><text class="tp" x="38" y="-20">=127</text><text class="mn" x="32" y="-8">86</text><text class="s1" x="275.5" y="76.5">149</text><text class="s2" x="275.5" y="89.8">99422</text><text class="s3" x="275.5" y="102.8">50.00%</text></g>
<g id="m87"><use href="#tq" x="277"/><text class="tp" x="283" y="-20">=126</text><text class="mn" x="277" y="-8">87</text><text class="s1" x="520.5" y="76.5">178</text><text class="s2" x="520.5" y="89.8">100490</text><text class="s3" x="520.5" y="102.8">50.00%</text></g>
<g id="m88"><use href="#tq" x="522"/><text class="tp" x="528" y="-20">=126</text><text class="mn" x="522" y="-8">88</text><text class="s1" x="765.5" y="76.5">149</text><text class="s2" x="765.5" y="89.8">101384</text><text class="s3" x="765.5" y="102.8">50.00%</text></g>
<g id="m89"><use href="#tq" x="767"/><text class="tp" x="773" y="-20">=127</text><text class="mn" x="767" y="-8">89</text><text class="s1" x="1010.5" y="76.5">33</text><text class="s2" x="1010.5" y="89.8">101582</text><text class="s3" x="1010.5" y="102.8">50.00%</text></g>
</g>

<g id="row23" transform="translate(0 3448.5)"><use href="#st4"/>
<circle class="o" cx="32" cy="61" r="5.2"/><circle class="y" cx="77.94" cy="30" r="5.2"/><circle class="b" cx="123.88" cy="45" r="5.2"/><circle class="r" cx="169.81" cy="15" r="5.2"/><circle class="y" cx="215.75" cy="30" r="5.2"/><circle class="g" cx="246.38" cy="0" r="5.2"/>
<circle class="r" cx="277" cy="15" r="5.2"/><circle class="y" cx="322.94" cy="30" r="5.2"/><circle class="r" cx="368.88" cy="15" r="5.2"/><circle class="y" cx="414.81" cy="30" r="5.2"/><circle class="b" cx="460.75" cy="45" r="5.2"/><circle class="y" cx="491.38" cy="30" r="5.2"/>
<use href="#sr" class="o" x="522" y="61"/><use href="#sr" class="y" x="567.94" y="30"/><use href="#sr" class="b" x="613.88" y="45"/><use href="#sr" class="r" x="659.81" y="15"/><use href="#sr" class="y" x="705.75" y="30"/><use href="#sr" class="g" x="736.38" y="0"/>
<circle class="o" cx="767" cy="61" r="5.2"/><circle class="y" cx="812.94" cy="30" r="5.2"/><circle class="b" cx="858.88" cy="45" r="5.2"/><circle class="r" cx="920.13" cy="15" r="5.2"/><circle class="y" cx="950.75" cy="30" r="5.2"/><circle class="g" cx="981.38" cy="0" r="5.2"/>
<rect class="gz" x="522" y="0" width="214.4" height="61"/>
<g id="m90"><use href="#tq" x="32"/><text class="tp" x="38" y="-20">=126</text><text class="mn" x="32" y="-8">90</text><text class="s1" x="275.5" y="76.5">150</text><text class="s2" x="275.5" y="89.8">102482</text><text class="s3" x="275.5" y="102.8">50.00%</text></g>
<g id="m91"><use href="#tq" x="277"/><text class="tp" x="283" y="-20">=125</text><text class="mn" x="277" y="-8">91</text><text class="s1" x="520.5" y="76.5">150</text><text class="s2" x="520.5" y="89.8">103382</text><text class="s3" x="520.5" y="102.8">50.00%</text></g>
<g id="m92"><use href="#tq" x="522"/><text class="tp" x="528" y="-20">=127</text><text class="mn" x="522" y="-8">92</text><text class="s1" x="765.5" y="76.5">150</text><text class="s2" x="765.5" y="89.8">104282</text><text class="s3" x="765.5" y="102.8">75.00%</text></g>
<g id="m93"><use href="#tq" x="767"/><text class="tp" x="773" y="-20">=127</text><text class="mn" x="767" y="-8">93</text><text class="s1" x="1010.5" y="76.5">150</text><text class="s2" x="1010.5" y="89.8">105182</text><text class="s3" x="1010.5" y="102.8">75.00%</text></g>
</g>

<g id="row24" transform="translate(0 3589.5)"><use href="#st4"/><circle class="r" cx="32" cy="15" r="5.2"/><use href="#O8" x="767"/><rect class="bz" x="767" y="-0.6" width="245" height="62.2"/>
<g id="m94"><use href="#tq" x="32"/><text class="tp" x="38" y="-20">=128</text><text class="mn" x="32" y="-8">94</text><text class="s1" x="275.5" y="76.5">25</text><text class="s2" x="275.5" y="89.8">105332</text><text class="s3" x="275.5" y="102.8">75.00%</text></g>
<g id="m95"><use href="#tq" x="277"/><text class="tp" x="283" y="-20">=125</text><text class="mn" x="277" y="-8">95</text><text class="s1" x="520.5" y="76.5">0</text><text class="s2" x="520.5" y="89.8">105332</text><text class="s3" x="520.5" y="102.8">75.00%</text></g>
<g id="m96"><text class="mn" x="522" y="-8">96</text><text class="s1" x="765.5" y="76.5">0</text><text class="s2" x="765.5" y="89.8">105332</text><text class="s3" x="765.5" y="102.8">74.99%</text></g>
<g id="m97"><use href="#tq" x="767"/><text class="tp" x="773" y="-20">=126</text><text class="mn" x="767" y="-8">97</text><text class="s1" x="1010.5" y="76.5">200</text><text class="s2" x="1010.5" y="89.8">107732</text><text class="s3" x="1010.5" y="102.8">62.49%</text></g>
</g>

<g id="row25" transform="translate(0 3730.5)"><use href="#st4"/><use href="#BY" x="32"/><use href="#O8" x="277"/><use href="#YB" x="522"/><use href="#O8" x="767"/><rect class="bz" x="32" y="-0.6" width="980" height="62.2"/>
<g id="m98"><use href="#tq" x="32"/><text class="tp" x="38" y="-20">=126</text><text class="mn" x="32" y="-8">98</text><text class="s1" x="275.5" y="76.5">200</text><text class="s2" x="275.5" y="89.8">110132</text><text class="s3" x="275.5" y="102.8">49.99%</text></g>
<g id="m99"><use href="#tq" x="277"/><text class="tp" x="283" y="-20">=125</text><text class="mn" x="277" y="-8">99</text><text class="s1" x="520.5" y="76.5">200</text><text class="s2" x="520.5" y="89.8">112532</text><text class="s3" x="520.5" y="102.8">37.49%</text></g>
<g id="m100"><use href="#tq" x="522"/><text class="tp" x="528" y="-20">=127</text><text class="mn" x="522" y="-8">100</text><text class="s1" x="765.5" y="76.5">200</text><text class="s2" x="765.5" y="89.8">114932</text><text class="s3" x="765.5" y="102.8">24.99%</text></g>
<g id="m101"><use href="#tq" x="767"/><text class="tp" x="773" y="-20">=127</text><text class="mn" x="767" y="-8">101</text><text class="s1" x="1010.5" y="76.5">200</text><text class="s2" x="1010.5" y="89.8">117332</text><text class="s3" x="1010.5" y="102.8">12.49%</text></g>
</g>

<g id="row26" transform="translate(0 3871.5)"><use href="#st4"/><use href="#BY" x="32"/><use href="#O8" x="277"/><use href="#YB" x="522"/><use href="#O8" x="767"/><rect class="bz" x="32" y="-0.6" width="735" height="62.2"/><rect class="pz" x="767" y="0" width="1.2" height="61"/>
<g id="m102"><use href="#tq" x="32"/><text class="tp" x="38" y="-20">=124</text><text class="mn" x="32" y="-8">102</text><text class="s1" x="275.5" y="76.5">200</text><text class="s2" x="275.5" y="89.8">119732</text><text class="s3" x="275.5" y="102.8">0.00%</text></g>
<g id="m103"><use href="#tq" x="277"/><text class="tp" x="283" y="-20">=127</text><text class="mn" x="277" y="-8">103</text><text class="s1" x="520.5" y="76.5">200</text><text class="s2" x="520.5" y="89.8">122132</text><text class="s3" x="520.5" y="102.8">0.00%</text></g>
<g id="m104"><use href="#tq" x="522"/><text class="tp" x="528" y="-20">=126</text><text class="mn" x="522" y="-8">104</text><text class="s1" x="765.5" y="76.5">200</text><text class="s2" x="765.5" y="89.8">124532</text><text class="s3" x="765.5" y="102.8">0.00%</text></g>
<g id="m105"><use href="#tq" x="767"/><text class="tp" x="773" y="-20">=126</text><text class="mn" x="767" y="-8">105</text><text class="s1" x="1010.5" y="76.5">200</text><text class="s2" x="1010.5" y="89.8">125882</text><text class="s3" x="1010.5" y="102.8">0.00%</text></g>
</g>

<g id="row27" transform="translate(0 4012.5)"><rect class="yz" x="277" y="-10.5" width="214.4" height="81.7"/><use href="#st4"/><use href="#BY" x="32"/><use href="#O8S" x="277"/><use href="#YB" x="522"/><use href="#O8" x="767"/><rect class="gz" x="277" y="0" width="214.4" height="61"/><rect class="bz" x="522" y="-0.6" width="490" height="62.2"/>
<g id="m106"><use href="#tq" x="32"/><text class="tp" x="38" y="-20">=126</text><text class="mn" x="32" y="-8">106</text><text class="s1" x="275.5" y="76.5">200</text><text class="s2" x="275.5" y="89.8">127082</text><text class="s3" x="275.5" y="102.8">0.00%</text></g>
<g id="m107"><use href="#tq" x="277"/><text class="tp" x="283" y="-20">=127</text><text class="mn" x="277" y="-8">107</text><text class="s1" x="520.5" y="76.5">200</text><text class="s2" x="520.5" y="89.8">128282</text><text class="s3" x="520.5" y="102.8">24.98%</text></g>
<g id="m108"><use href="#tq" x="522"/><text class="tp" x="528" y="-20">=125</text><text class="mn" x="522" y="-8">108</text><text class="s1" x="765.5" y="76.5">200</text><text class="s2" x="765.5" y="89.8">130682</text><text class="s3" x="765.5" y="102.8">12.48%</text></g>
<g id="m109"><use href="#tq" x="767"/><text class="tp" x="773" y="-20">=128</text><text class="mn" x="767" y="-8">109</text><text class="s1" x="1010.5" y="76.5">200</text><text class="s2" x="1010.5" y="89.8">133082</text><text class="s3" x="1010.5" y="102.8">0.00%</text></g>
</g>

<g id="row28" transform="translate(0 4153.5)"><use href="#st4"/><use href="#BY" x="32"/><use href="#O8" x="277"/><use href="#YB" x="522"/><use href="#O8" x="767"/><rect class="bz" x="32" y="-0.6" width="490" height="62.2"/>
<g id="m110"><use href="#tq" x="32"/><text class="tp" x="38" y="-20">=126</text><text class="mn" x="32" y="-8">110</text><text class="s1" x="275.5" y="76.5">200</text><text class="s2" x="275.5" y="89.8">135482</text><text class="s3" x="275.5" y="102.8">0.00%</text></g>
<g id="m111"><use href="#tq" x="277"/><text class="tp" x="283" y="-20">=125</text><text class="mn" x="277" y="-8">111</text><text class="s1" x="520.5" y="76.5">200</text><text class="s2" x="520.5" y="89.8">137882</text><text class="s3" x="520.5" y="102.8">0.00%</text></g>
<g id="m112"><use href="#tq" x="522"/><text class="tp" x="528" y="-20">=126</text><text class="mn" x="522" y="-8">112</text><text class="s1" x="765.5" y="76.5">200</text><text class="s2" x="765.5" y="89.8">139232</text><text class="s3" x="765.5" y="102.8">0.00%</text></g>
<g id="m113"><use href="#tq" x="767"/><text class="tp" x="773" y="-20">=125</text><text class="mn" x="767" y="-8">113</text><text class="s1" x="1010.5" y="76.5">200</text><text class="s2" x="1010.5" y="89.8">140432</text><text class="s3" x="1010.5" y="102.8">0.00%</text></g>
</g>

<g id="row29" transform="translate(0 4294.5)"><use href="#st4"/><use href="#BY" x="32"/><use href="#O8" x="277"/><use href="#YBS" x="522"/><use href="#O8" x="767"/><rect class="gz" x="522" y="0" width="214.4" height="61"/>
<g id="m114"><use href="#tq" x="32"/><text class="tp" x="38" y="-20">=127</text><text class="mn" x="32" y="-8">114</text><text class="s1" x="275.5" y="76.5">200</text><text class="s2" x="275.5" y="89.8">141632</text><text class="s3" x="275.5" y="102.8">0.00%</text></g>
<g id="m115"><use href="#tq" x="277"/><text class="tp" x="283" y="-20">=125</text><text class="mn" x="277" y="-8">115</text><text class="s1" x="520.5" y="76.5">200</text><text class="s2" x="520.5" y="89.8">142832</text><text class="s3" x="520.5" y="102.8">0.00%</text></g>
<g id="m116"><use href="#tq" x="522"/><text class="tp" x="528" y="-20">=127</text><text class="mn" x="522" y="-8">116</text><text class="s1" x="765.5" y="76.5">200</text><text class="s2" x="765.5" y="89.8">144032</text><text class="s3" x="765.5" y="102.8">25.00%</text></g>
<g id="m117"><use href="#tq" x="767"/><text class="tp" x="773" y="-20">=125</text><text class="mn" x="767" y="-8">117</text><text class="s1" x="1010.5" y="76.5">200</text><text class="s2" x="1010.5" y="89.8">145232</text><text class="s3" x="1010.5" y="102.8">25.00%</text></g>
</g>

<g id="row30" transform="translate(0 4435.5)"><use href="#st4"/><use href="#BY" x="32"/><use href="#O8" x="277"/><use href="#YB" x="522"/><use href="#O8" x="767"/>
<g id="m118"><use href="#tq" x="32"/><text class="tp" x="38" y="-20">=126</text><text class="mn" x="32" y="-8">118</text><text class="s1" x="275.5" y="76.5">200</text><text class="s2" x="275.5" y="89.8">146432</text><text class="s3" x="275.5" y="102.8">25.00%</text></g>
<g id="m119"><use href="#tq" x="277"/><text class="tp" x="283" y="-20">=127</text><text class="mn" x="277" y="-8">119</text><text class="s1" x="520.5" y="76.5">200</text><text class="s2" x="520.5" y="89.8">147632</text><text class="s3" x="520.5" y="102.8">25.00%</text></g>
<g id="m120"><use href="#tq" x="522"/><text class="tp" x="528" y="-20">=127</text><text class="mn" x="522" y="-8">120</text><text class="s1" x="765.5" y="76.5">200</text><text class="s2" x="765.5" y="89.8">148832</text><text class="s3" x="765.5" y="102.8">25.00%</text></g>
<g id="m121"><use href="#tq" x="767"/><text class="tp" x="773" y="-20">=124</text><text class="mn" x="767" y="-8">121</text><text class="s1" x="1010.5" y="76.5">200</text><text class="s2" x="1010.5" y="89.8">150032</text><text class="s3" x="1010.5" y="102.8">25.00%</text></g>
</g>

<g id="row31" transform="translate(0 4576.5)"><use href="#st4"/><use href="#BY" x="32"/><use href="#O8" x="277"/><use href="#YB" x="522"/><use href="#O8" x="767"/>
<g id="m122"><use href="#tq" x="32"/><text class="tp" x="38" y="-20">=129</text><text class="mn" x="32" y="-8">122</text><text class="s1" x="275.5" y="76.5">200</text><text class="s2" x="275.5" y="89.8">151232</text><text class="s3" x="275.5" y="102.8">25.00%</text></g>
<g id="m123"><use href="#tq" x="277"/><text class="tp" x="283" y="-20">=124</text><text class="mn" x="277" y="-8">123</text><text class="s1" x="520.5" y="76.5">200</text><text class="s2" x="520.5" y="89.8">152432</text><text class="s3" x="520.5" y="102.8">25.00%</text></g>
<g id="m124"><use href="#tq" x="522"/><text class="tp" x="528" y="-20">=127</text><text class="mn" x="522" y="-8">124</text><text class="s1" x="765.5" y="76.5">200</text><text class="s2" x="765.5" y="89.8">153632</text><text class="s3" x="765.5" y="102.8">25.00%</text></g>
<g id="m125"><use href="#tq" x="767"/><text class="tp" x="773" y="-20">=125</text><text class="mn" x="767" y="-8">125</text><text class="s1" x="1010.5" y="76.5">200</text><text class="s2" x="1010.5" y="89.8">154832</text><text class="s3" x="1010.5" y="102.8">25.00%</text></g>
</g>

<g id="row32" transform="translate(0 4717.5)"><rect class="yz" x="277" y="-10.5" width="214.4" height="81.7"/><use href="#st4"/><use href="#BY" x="32"/><use href="#O8S" x="277"/><use href="#YB" x="522"/><use href="#O8" x="767"/><rect class="gz" x="277" y="0" width="214.4" height="61"/>
<g id="m126"><use href="#tq" x="32"/><text class="tp" x="38" y="-20">=127</text><text class="mn" x="32" y="-8">126</text><text class="s1" x="275.5" y="76.5">200</text><text class="s2" x="275.5" y="89.8">156032</text><text class="s3" x="275.5" y="102.8">25.00%</text></g>
<g id="m127"><use href="#tq" x="277"/><text class="tp" x="283" y="-20">=127</text><text class="mn" x="277" y="-8">127</text><text class="s1" x="520.5" y="76.5">200</text><text class="s2" x="520.5" y="89.8">157232</text><text class="s3" x="520.5" y="102.8">50.00%</text></g>
<g id="m128"><use href="#tq" x="522"/><text class="tp" x="528" y="-20">=125</text><text class="mn" x="522" y="-8">128</text><text class="s1" x="765.5" y="76.5">200</text><text class="s2" x="765.5" y="89.8">158432</text><text class="s3" x="765.5" y="102.8">50.00%</text></g>
<g id="m129"><use href="#tq" x="767"/><text class="tp" x="773" y="-20">=125</text><text class="mn" x="767" y="-8">129</text><text class="s1" x="1010.5" y="76.5">200</text><text class="s2" x="1010.5" y="89.8">159632</text><text class="s3" x="1010.5" y="102.8">50.00%</text></g>
</g>

<g id="row33" transform="translate(0 4858.5)"><use href="#st4"/><use href="#BY" x="32"/><use href="#O8" x="277"/><use href="#YBS" x="522"/><use href="#O8" x="767"/><rect class="gz" x="522" y="0" width="214.4" height="61"/>
<g id="m130"><use href="#tq" x="32"/><text class="tp" x="38" y="-20">=127</text><text class="mn" x="32" y="-8">130</text><text class="s1" x="275.5" y="76.5">200</text><text class="s2" x="275.5" y="89.8">160832</text><text class="s3" x="275.5" y="102.8">50.00%</text></g>
<g id="m131"><use href="#tq" x="277"/><text class="tp" x="283" y="-20">=127</text><text class="mn" x="277" y="-8">131</text><text class="s1" x="520.5" y="76.5">200</text><text class="s2" x="520.5" y="89.8">162032</text><text class="s3" x="520.5" y="102.8">50.00%</text></g>
<g id="m132"><use href="#tq" x="522"/><text class="tp" x="528" y="-20">=125</text><text class="mn" x="522" y="-8">132</text><text class="s1" x="765.5" y="76.5">200</text><text class="s2" x="765.5" y="89.8">163232</text><text class="s3" x="765.5" y="102.8">75.00%</text></g>
<g id="m133"><use href="#tq" x="767"/><text class="tp" x="773" y="-20">=127</text><text class="mn" x="767" y="-8">133</text><text class="s1" x="1010.5" y="76.5">200</text><text class="s2" x="1010.5" y="89.8">164432</text><text class="s3" x="1010.5" y="102.8">75.00%</text></g>
</g>

<g id="row34" transform="translate(0 4999.5)"><use href="#st4"/><use href="#BY" x="32"/><use href="#O8" x="277"/><use href="#YB" x="522"/><use href="#G8" x="767"/><rect class="pz" x="767" y="-0.6" width="8.5" height="62.2"/><rect class="bz" x="775.5" y="-0.6" width="236.5" height="62.2"/>
<g id="m134"><use href="#tq" x="32"/><text class="tp" x="38" y="-20">=125</text><text class="mn" x="32" y="-8">134</text><text class="s1" x="275.5" y="76.5">200</text><text class="s2" x="275.5" y="89.8">165632</text><text class="s3" x="275.5" y="102.8">75.00%</text></g>
<g id="m135"><use href="#tq" x="277"/><text class="tp" x="283" y="-20">=127</text><text class="mn" x="277" y="-8">135</text><text class="s1" x="520.5" y="76.5">200</text><text class="s2" x="520.5" y="89.8">166832</text><text class="s3" x="520.5" y="102.8">75.00%</text></g>
<g id="m136"><use href="#tq" x="522"/><text class="tp" x="528" y="-20">=127</text><text class="mn" x="522" y="-8">136</text><text class="s1" x="765.5" y="76.5">200</text><text class="s2" x="765.5" y="89.8">168032</text><text class="s3" x="765.5" y="102.8">75.00%</text></g>
<g id="m137"><use href="#tq" x="767"/><text class="tp" x="773" y="-20">=122</text><text class="mn" x="767" y="-8">137</text><text class="s1" x="1010.5" y="76.5">200</text><text class="s2" x="1010.5" y="89.8">170432</text><text class="s3" x="1010.5" y="102.8">63.00%</text></g>
</g>

<g id="row35" transform="translate(0 5140.5)"><use href="#st4"/><use href="#G8" x="32"/><use href="#G8" x="277"/><use href="#YB" x="522"/><use href="#G8" x="767"/><rect class="bz" x="32" y="-0.6" width="980" height="62.2"/>
<g id="m138"><use href="#tq" x="32"/><text class="tp" x="38" y="-20">=126</text><text class="mn" x="32" y="-8">138</text><text class="s1" x="275.5" y="76.5">200</text><text class="s2" x="275.5" y="89.8">172832</text><text class="s3" x="275.5" y="102.8">50.50%</text></g>
<g id="m139"><use href="#tq" x="277"/><text class="tp" x="283" y="-20">=126</text><text class="mn" x="277" y="-8">139</text><text class="s1" x="520.5" y="76.5">200</text><text class="s2" x="520.5" y="89.8">175232</text><text class="s3" x="520.5" y="102.8">38.00%</text></g>
<g id="m140"><use href="#tq" x="522"/><text class="tp" x="528" y="-20">=126</text><text class="mn" x="522" y="-8">140</text><text class="s1" x="765.5" y="76.5">200</text><text class="s2" x="765.5" y="89.8">177632</text><text class="s3" x="765.5" y="102.8">25.50%</text></g>
<g id="m141"><use href="#tq" x="767"/><text class="tp" x="773" y="-20">=126</text><text class="mn" x="767" y="-8">141</text><text class="s1" x="1010.5" y="76.5">200</text><text class="s2" x="1010.5" y="89.8">180032</text><text class="s3" x="1010.5" y="102.8">13.00%</text></g>
</g>

<g id="row36" transform="translate(0 5281.5)"><use href="#st4"/><use href="#G8" x="32"/><use href="#G8" x="277"/><use href="#YB" x="522"/><rect class="b" x="767" y="41.5" width="107.2" height="7"/><circle class="b" cx="767" cy="45" r="5.2"/><rect class="bz" x="32" y="-0.6" width="743.5" height="62.2"/>
<g id="m142"><use href="#tq" x="32"/><text class="tp" x="38" y="-20">=126</text><text class="mn" x="32" y="-8">142</text><text class="s1" x="275.5" y="76.5">200</text><text class="s2" x="275.5" y="89.8">182432</text><text class="s3" x="275.5" y="102.8">0.50%</text></g>
<g id="m143"><use href="#tq" x="277"/><text class="tp" x="283" y="-20">=126</text><text class="mn" x="277" y="-8">143</text><text class="s1" x="520.5" y="76.5">200</text><text class="s2" x="520.5" y="89.8">184832</text><text class="s3" x="520.5" y="102.8">0.00%</text></g>
<g id="m144"><use href="#tq" x="522"/><text class="tp" x="528" y="-20">=126</text><text class="mn" x="522" y="-8">144</text><text class="s1" x="765.5" y="76.5">200</text><text class="s2" x="765.5" y="89.8">187232</text><text class="s3" x="765.5" y="102.8">0.00%</text></g>
<g id="m145"><text class="mn" x="767" y="-8">145</text><text class="s1" x="1010.5" y="76.5">46</text><text class="s2" x="1010.5" y="89.8">187670</text><text class="s3" x="1010.5" y="102.8">0.00%</text></g>
</g>
</g>
</svg>
